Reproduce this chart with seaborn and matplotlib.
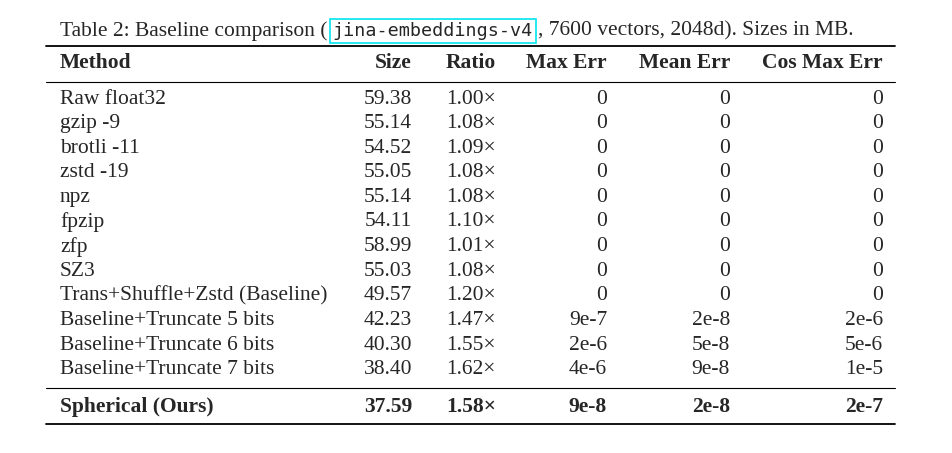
import matplotlib.pyplot as plt
import seaborn as sns

methods = ["Raw float32", "gzip -9", "brotli -11", "zstd -19", "npz", "fpzip", "zfp", "SZ3",
           "Trans+Shuffle+Zstd (Baseline)", "Baseline+Truncate 5 bits",
           "Baseline+Truncate 6 bits", "Baseline+Truncate 7 bits"]
sizes = ["59.38", "55.14", "54.52", "55.05", "55.14", "54.11", "58.99", "55.03", "49.57", "42.23", "40.30", "38.40"]
ratios = ["1.00", "1.08", "1.09", "1.08", "1.08", "1.10", "1.01", "1.08", "1.20", "1.47", "1.55", "1.62"]
max_err = ["0"] * 9 + ["9e-7", "2e-6", "4e-6"]
mean_err = ["0"] * 9 + ["2e-8", "5e-8", "9e-8"]
cos_err = ["0"] * 9 + ["2e-6", "5e-6", "1e-5"]
ours = ["Spherical (Ours)", "37.59", "1.58", "9e-8", "2e-8", "2e-7"]
headers = ["Method", "Size", "Ratio", "Max Err", "Mean Err", "Cos Max Err"]

sns.set_theme(style="white")
plt.rcParams['font.family'] = ['Liberation Serif', 'DejaVu Serif']

fig = plt.figure(figsize=(9.52, 4.53), dpi=100)
ax = fig.add_axes([0, 0, 1, 1])
ax.set_xlim(0, 952)
ax.set_ylim(453, 0)
ax.axis("off")

fs = 15.5
renderer = fig.canvas.get_renderer()

def next_x(t):
    bb = t.get_window_extent(renderer)
    return bb.x1

# caption, pieces chained left to right
t1 = ax.text(60, 31, "Table 2: Baseline comparison (", fontsize=fs, va="center")
x = next_x(t1) + 5
t2 = ax.text(x, 31, "jina-embeddings-v4", fontsize=13.2, va="center",
             family="DejaVu Sans Mono",
             bbox=dict(boxstyle="square,pad=0.15", fc="none", ec="#00e5ee", lw=1.2))
x = next_x(t2) + 5
ax.text(x, 31, ", 7600 vectors, 2048d). Sizes in MB.", fontsize=fs, va="center")

# rules
ax.plot([46, 895], [46, 46], color="black", lw=1.3)
ax.plot([46, 895], [82, 82], color="black", lw=0.8)
ax.plot([46, 895], [388, 388], color="black", lw=0.8)
ax.plot([46, 895], [424, 424], color="black", lw=1.3)

rights = [412, 496, 607, 730, 883]

def row(y, cells, weight="normal"):
    ax.text(60, y, cells[0], fontsize=fs, va="center", weight=weight)
    for xr, c in zip(rights, cells[1:]):
        ax.text(xr, y, c, fontsize=fs, va="center", ha="right", weight=weight)

row(63, headers, "bold")
for i in range(len(methods)):
    y = 99 + i * 24.6
    row(y, [methods[i], sizes[i], ratios[i] + "×", max_err[i], mean_err[i], cos_err[i]])
row(407, [ours[0], ours[1], ours[2] + "×", ours[3], ours[4], ours[5]], "bold")

fig.savefig("out.png", dpi=100)
